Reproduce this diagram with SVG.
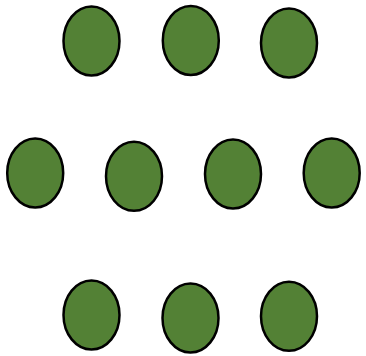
<svg xmlns="http://www.w3.org/2000/svg" width="366" height="356" viewBox="0 0 366 356">
<style>
.n{fill:#538135;stroke:#000;stroke-width:2.5}
</style>
<rect width="366" height="356" fill="#fff"/>
<g id="n1"><ellipse class="n" cx="91.5" cy="41" rx="28" ry="34.5"/></g>
<g id="n2"><ellipse class="n" cx="190.8" cy="40.5" rx="28" ry="34.5"/></g>
<g id="n3"><ellipse class="n" cx="289" cy="43" rx="28" ry="34.5"/></g>
<g id="n4"><ellipse class="n" cx="35.2" cy="173" rx="28" ry="34.5"/></g>
<g id="n5"><ellipse class="n" cx="134" cy="176.3" rx="28" ry="34.5"/></g>
<g id="n6"><ellipse class="n" cx="233" cy="174" rx="28" ry="34.5"/></g>
<g id="n7"><ellipse class="n" cx="331.7" cy="173" rx="28" ry="34.5"/></g>
<g id="n8"><ellipse class="n" cx="91.5" cy="315" rx="28" ry="34.5"/></g>
<g id="n9"><ellipse class="n" cx="190.5" cy="318" rx="28" ry="34.5"/></g>
<g id="n10"><ellipse class="n" cx="289" cy="316.3" rx="28" ry="34.5"/></g>
<g id="connectors"></g>
</svg>
